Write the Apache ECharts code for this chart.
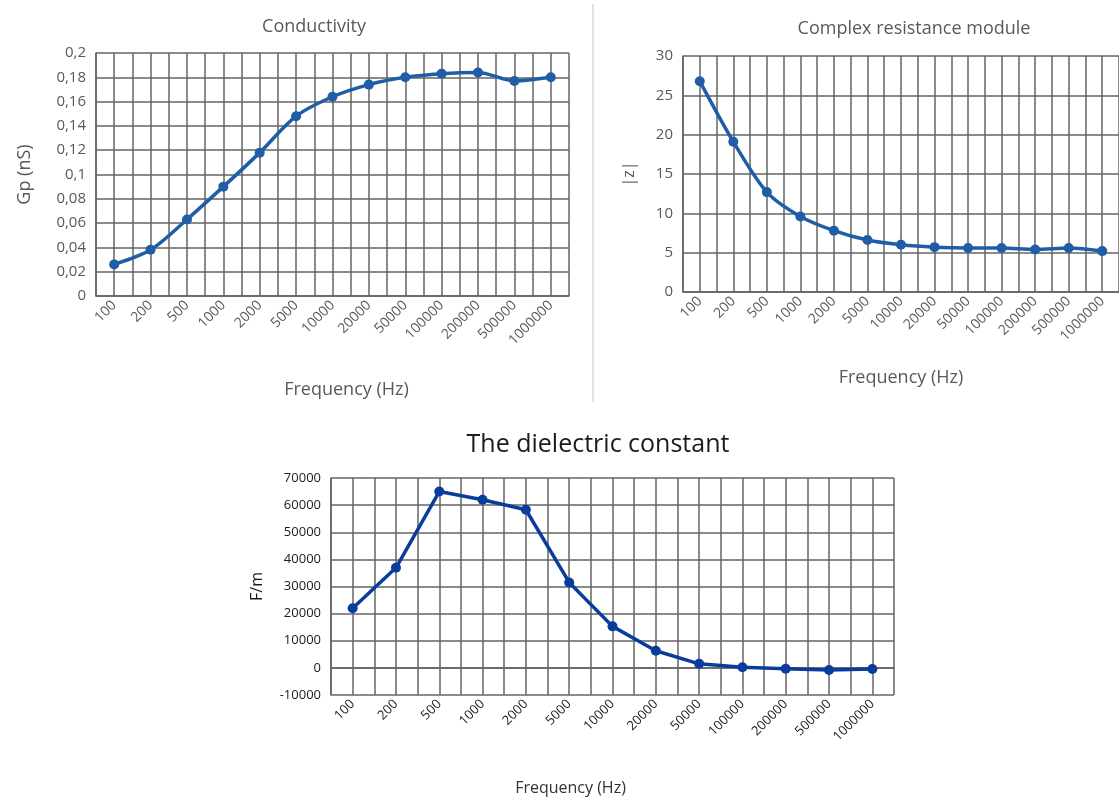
<!DOCTYPE html>
<html>
<head>
<meta charset="utf-8">
<script src="https://cdn.jsdelivr.net/npm/echarts@6/dist/echarts.min.js"></script>
<style>
  html, body { margin: 0; padding: 0; background: #fff; }
  #main { width: 1119px; height: 800px; }
</style>
</head>
<body>
<div id="main"></div>
<script>
// 频率 (Hz)
const frequencies = ['100', '200', '500', '1000', '2000', '5000', '10000', '20000', '50000', '100000', '200000', '500000', '1000000']

// Conductivity, Gp (nS)
const conductivity = [0.026, 0.038, 0.063, 0.09, 0.118, 0.148, 0.164, 0.174, 0.18, 0.183, 0.184, 0.177, 0.18]
// Complex resistance module, |z|
const resistance = [26.8, 19.1, 12.7, 9.6, 7.8, 6.6, 6.0, 5.7, 5.6, 5.6, 5.4, 5.6, 5.2]
// The dielectric constant, F/m
const dielectric = [22000, 36900, 65000, 62000, 58300, 31500, 15300, 6300, 1500, 200, -300, -800, -400]

const fontFamily = '"Open Sans", "Noto Sans", sans-serif'
const gridColor = '#646464'
const grey = '#595959'

const myChart = echarts.init(document.getElementById('main'))

// 网格：每个类别两条竖线（边界 + 中心）
function gridXAxis(gridIndex) {
  return {
    type: 'value',
    gridIndex: gridIndex,
    min: 0,
    max: frequencies.length * 2,
    interval: 1,
    axisLabel: { show: false },
    axisTick: { show: false },
    axisLine: { show: false },
    splitLine: { show: true, lineStyle: { color: gridColor, width: 1.5 } }
  }
}

function catXAxis(gridIndex, labelSize, labelColor, name, nameGap, namePadding, nameSize, nameColor) {
  return {
    type: 'category',
    gridIndex: gridIndex,
    data: frequencies,
    boundaryGap: true,
    axisLine: { show: true, lineStyle: { color: gridColor, width: 1.5 } },
    axisTick: { show: false },
    splitLine: { show: false },
    axisLabel: {
      rotate: 45,
      interval: 0,
      margin: 7,
      fontFamily: fontFamily,
      fontSize: labelSize,
      color: labelColor
    },
    name: name,
    nameLocation: 'middle',
    nameGap: nameGap,
    nameTextStyle: {
      fontFamily: fontFamily,
      fontSize: nameSize,
      color: nameColor,
      padding: namePadding
    }
  }
}

function valYAxis(gridIndex, min, max, interval, formatter, labelSize, labelColor, name, nameGap, nameSize, nameColor) {
  return {
    type: 'value',
    gridIndex: gridIndex,
    min: min,
    max: max,
    interval: interval,
    axisLine: { show: true, lineStyle: { color: gridColor, width: 1.5 } },
    axisTick: { show: false },
    splitLine: { show: true, lineStyle: { color: gridColor, width: 1.5 } },
    axisLabel: {
      margin: 10,
      fontFamily: fontFamily,
      fontSize: labelSize,
      color: labelColor,
      formatter: formatter
    },
    name: name,
    nameLocation: 'middle',
    nameGap: nameGap,
    nameTextStyle: {
      fontFamily: fontFamily,
      fontSize: nameSize,
      color: nameColor
    }
  }
}

function lineSeries(xIndex, yIndex, data, color, smooth, size) {
  return {
    type: 'line',
    xAxisIndex: xIndex,
    yAxisIndex: yIndex,
    data: data,
    smooth: smooth,
    symbol: 'circle',
    symbolSize: size,
    lineStyle: { color: color, width: 3.5 },
    itemStyle: { color: color },
    z: 5
  }
}

myChart.setOption({
  animation: false,
  backgroundColor: '#fff',
  title: [
    {
      text: 'Conductivity',
      left: 314,
      top: 18,
      padding: 0,
      textAlign: 'center',
      textStyle: { fontFamily: fontFamily, fontSize: 18, fontWeight: 'normal', color: grey }
    },
    {
      text: 'Complex resistance module',
      left: 914,
      top: 20,
      padding: 0,
      textAlign: 'center',
      textStyle: { fontFamily: fontFamily, fontSize: 18, fontWeight: 'normal', color: grey }
    },
    {
      text: 'The dielectric constant',
      left: 598,
      top: 432,
      padding: 0,
      textAlign: 'center',
      textStyle: { fontFamily: fontFamily, fontSize: 25, fontWeight: 'normal', color: '#1a1a1a' }
    }
  ],
  graphic: [
    {
      type: 'rect',
      shape: { x: 592, y: 4, width: 2, height: 398 },
      style: { fill: '#e2e2e2' },
      silent: true
    }
  ],
  grid: [
    { left: 96, top: 53, width: 473, height: 243 },
    { left: 683, top: 56, width: 445, height: 236 },
    { left: 331, top: 478, width: 563, height: 217 }
  ],
  xAxis: [
    catXAxis(0, 14, grey, 'Frequency (Hz)', 85, [0, 0, 0, 28], 18, grey),
    gridXAxis(0),
    catXAxis(1, 14, grey, 'Frequency (Hz)', 77, 0, 18, grey),
    gridXAxis(1),
    catXAxis(2, 13, '#1a1a1a', 'Frequency (Hz)', 85, [0, 84, 0, 0], 16, '#333'),
    gridXAxis(2)
  ],
  yAxis: [
    valYAxis(0, 0, 0.2, 0.02, (v) => String(+v.toFixed(2)).replace('.', ','), 15, grey, 'Gp (nS)', 62, 18, grey),
    valYAxis(1, 0, 30, 5, (v) => String(v), 15, grey, '|z|', 46, 16, grey),
    valYAxis(2, -10000, 70000, 10000, (v) => String(v), 13, '#1a1a1a', 'F/m', 66, 16, '#1a1a1a')
  ],
  series: [
    lineSeries(0, 0, conductivity, '#1f5ea6', 0.3, 10),
    lineSeries(2, 1, resistance, '#1f5ea6', 0.3, 10),
    lineSeries(4, 2, dielectric, '#0a3c9e', false, 10)
  ]
})

window.addEventListener('resize', () => {
  myChart.resize()
})
</script>
</body>
</html>
